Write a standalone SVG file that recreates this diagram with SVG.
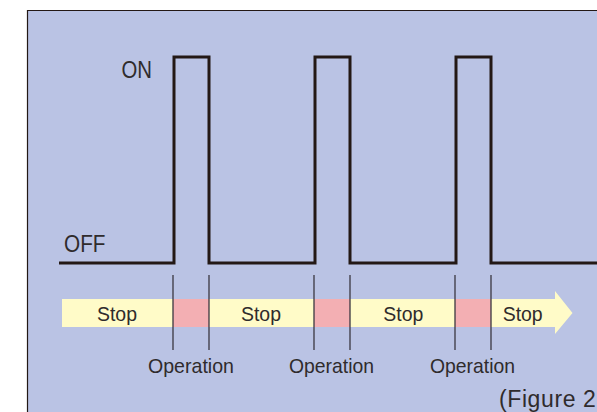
<svg xmlns="http://www.w3.org/2000/svg" width="597" height="412" viewBox="0 0 597 412">
<defs>
<style>
.t{font-family:"Liberation Sans",Arial,sans-serif;font-size:19.6px;fill:#2f2b2c}
.big{font-size:23px}
.sig{fill:none;stroke:#231815;stroke-width:3;stroke-linejoin:miter}
.div{stroke:#3a3640;stroke-width:1.3}
.op{fill:#F3AFB3}
</style>
</defs>
<rect x="0" y="0" width="597" height="412" fill="#ffffff"/>
<g id="frame">
<rect x="27" y="10" width="580" height="412" fill="#BAC3E4"/>
<path d="M27.5 412 V10.5 H597" fill="none" stroke="#231815" stroke-width="1.2"/>
</g>
<g id="timeline">
<path d="M62 299 H555 V291 L572.5 313 L555 334 V327 H62 Z" fill="#FFFBC8"/>
<rect class="op" x="173" y="299" width="36" height="28"/>
<rect class="op" x="314" y="299" width="36" height="28"/>
<rect class="op" x="455" y="299" width="36" height="28"/>
</g>
<g id="signal">
<path class="sig" d="M59 263 H174 V57 H209 V263 H315 V57 H350 V263 H456 V57 H491 V263 H597"/>
</g>
<g id="connectors">
<line class="div" x1="173" y1="275" x2="173" y2="350"/>
<line class="div" x1="209" y1="275" x2="209" y2="350"/>
<line class="div" x1="314" y1="275" x2="314" y2="350"/>
<line class="div" x1="350" y1="275" x2="350" y2="350"/>
<line class="div" x1="455" y1="275" x2="455" y2="350"/>
<line class="div" x1="491" y1="275" x2="491" y2="350"/>
</g>
<g id="labels">
<text class="t big" x="121.5" y="78" textLength="30.5" lengthAdjust="spacingAndGlyphs">ON</text>
<text class="t big" x="64" y="252" textLength="41.5" lengthAdjust="spacingAndGlyphs">OFF</text>
<text class="t" x="97" y="320.5" textLength="40" lengthAdjust="spacingAndGlyphs">Stop</text>
<text class="t" x="241" y="320.5" textLength="40" lengthAdjust="spacingAndGlyphs">Stop</text>
<text class="t" x="383.3" y="320.5" textLength="40" lengthAdjust="spacingAndGlyphs">Stop</text>
<text class="t" x="502.7" y="320.5" textLength="40" lengthAdjust="spacingAndGlyphs">Stop</text>
<text class="t" x="148" y="372.5" style="font-size:21px" textLength="86" lengthAdjust="spacingAndGlyphs">Operation</text>
<text class="t" x="289" y="372.5" style="font-size:21px" textLength="85" lengthAdjust="spacingAndGlyphs">Operation</text>
<text class="t" x="430" y="372.5" style="font-size:21px" textLength="85" lengthAdjust="spacingAndGlyphs">Operation</text>
<text class="t" x="499" y="407" style="font-size:23px;letter-spacing:0.6px">(Figure 2</text>
</g>
</svg>
